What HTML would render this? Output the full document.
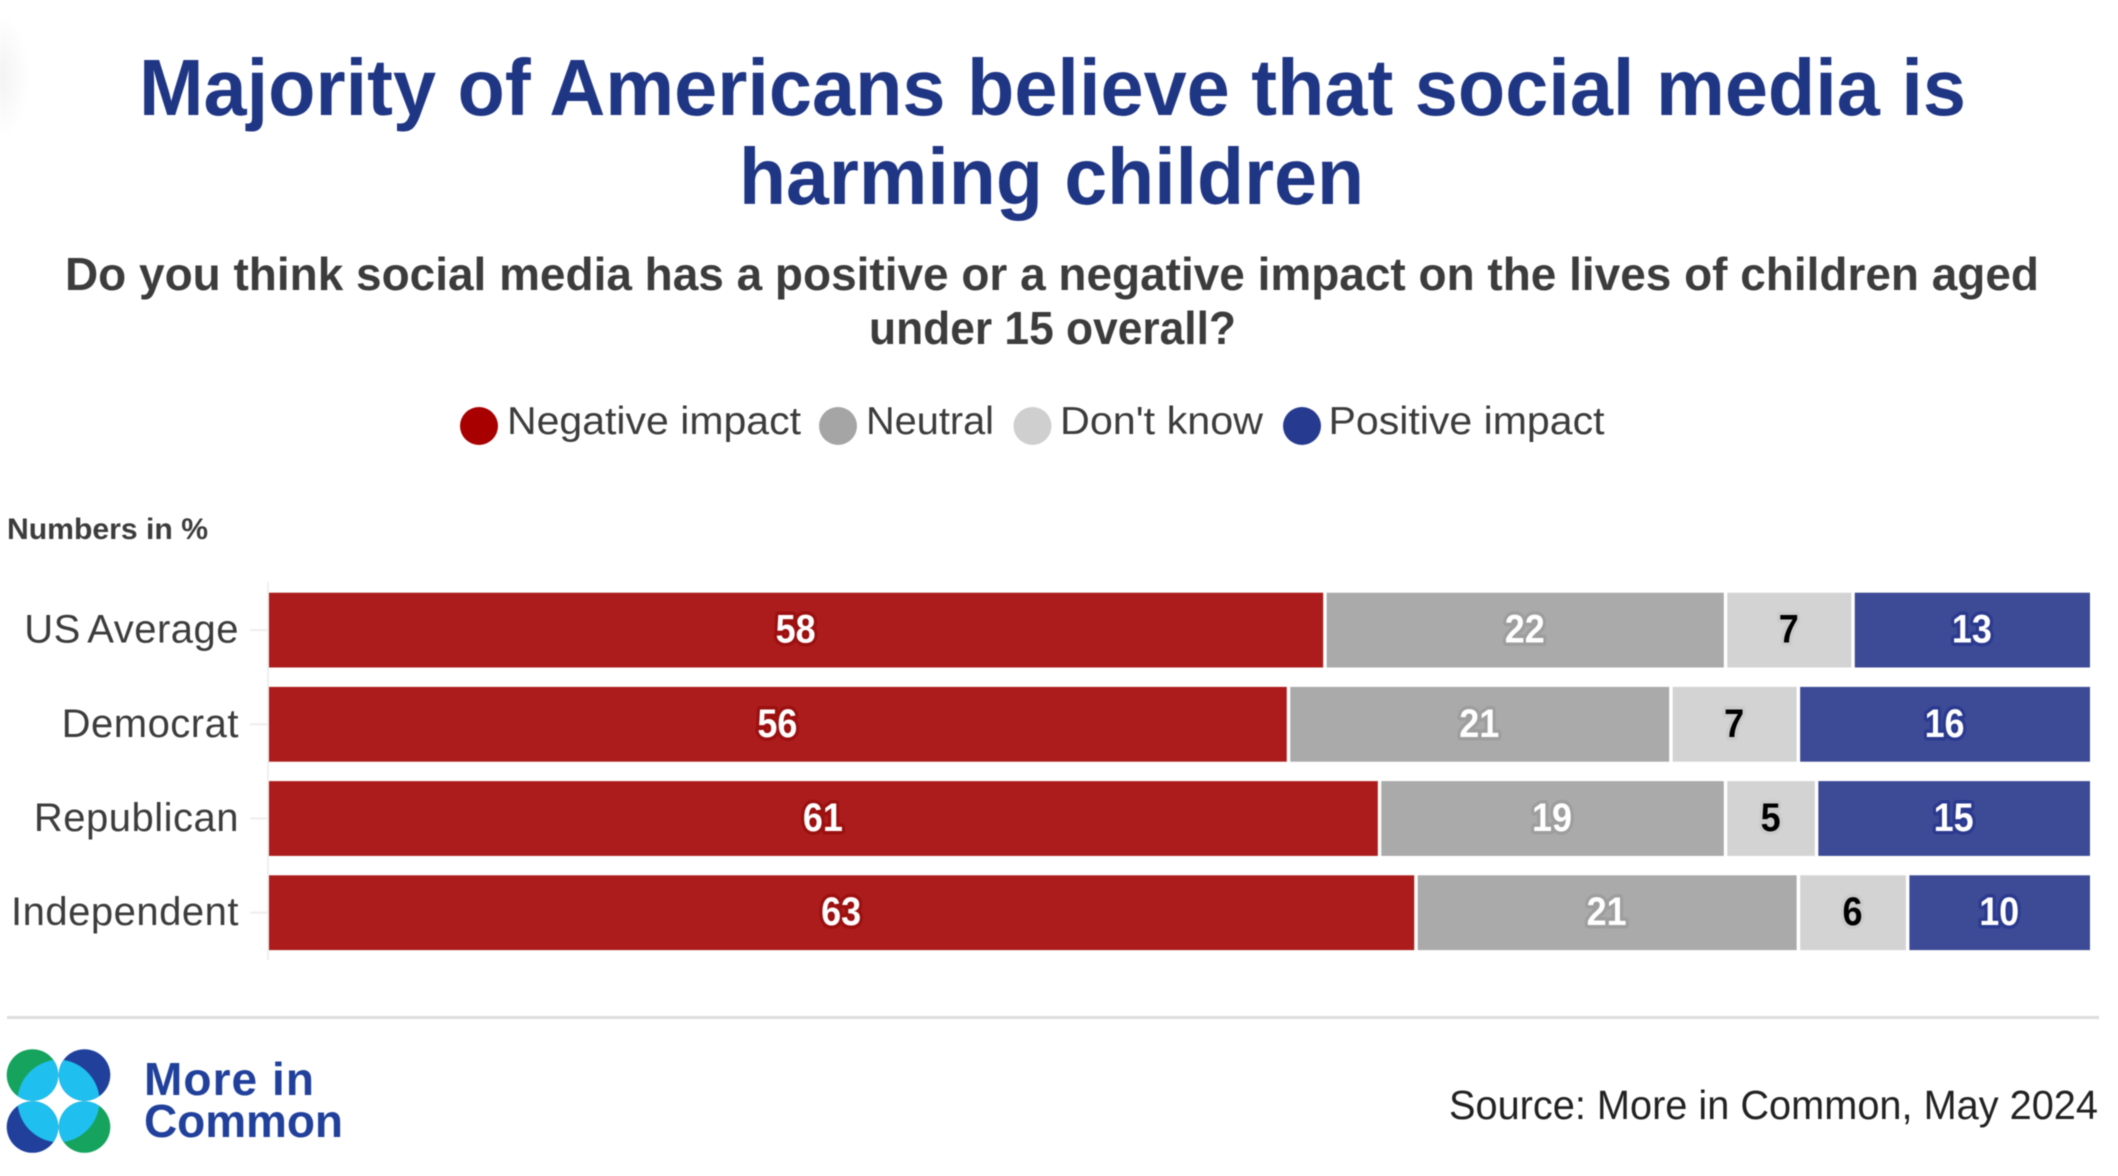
<!DOCTYPE html>
<html lang="en">
<head>
<meta charset="utf-8">
<title>Majority of Americans believe that social media is harming children</title>
<style>
html,body{margin:0;padding:0;background:#fff;}
svg{display:block;font-family:"Liberation Sans",Arial,sans-serif;filter:blur(0.5px);}
</style>
</head>
<body>
<svg id="chart" xmlns="http://www.w3.org/2000/svg" width="2118" height="1176" viewBox="0 0 2118 1176">
  <defs>
    <radialGradient id="smudge"><stop offset="0" stop-color="#f3f3f3"/><stop offset="1" stop-color="#ffffff"/></radialGradient>
  </defs>
  <rect width="2118" height="1176" fill="#fff"/>
  <ellipse cx="0" cy="76" rx="30" ry="62" fill="url(#smudge)"/>

  <g font-weight="700" font-size="80" fill="#1f3685" text-anchor="start">
    <text x="139" y="115" textLength="1827" lengthAdjust="spacingAndGlyphs">Majority of Americans believe that social media is</text>
    <text x="739" y="204" textLength="625" lengthAdjust="spacingAndGlyphs">harming children</text>
  </g>
  <g font-weight="700" font-size="46" fill="#3c3c3c">
    <text x="65" y="290" textLength="1974" lengthAdjust="spacingAndGlyphs">Do you think social media has a positive or a negative impact on the lives of children aged</text>
    <text x="869" y="344" textLength="367" lengthAdjust="spacingAndGlyphs">under 15 overall?</text>
  </g>

  <g font-size="39" fill="#3c3c3c">
    <g>
      <circle cx="479" cy="426" r="19" fill="#a80000"/>
      <text x="507" y="434" textLength="294" lengthAdjust="spacingAndGlyphs">Negative impact</text>
    </g>
    <g>
      <circle cx="838" cy="426" r="19" fill="#a5a5a5"/>
      <text x="866" y="434" textLength="128" lengthAdjust="spacingAndGlyphs">Neutral</text>
    </g>
    <g>
      <circle cx="1032.500" cy="426" r="19" fill="#cfcfcf"/>
      <text x="1060" y="434" textLength="203" lengthAdjust="spacingAndGlyphs">Don't know</text>
    </g>
    <g>
      <circle cx="1302" cy="426" r="19" fill="#263b8f"/>
      <text x="1328.500" y="434" textLength="276" lengthAdjust="spacingAndGlyphs">Positive impact</text>
    </g>
  </g>

  <text x="7" y="539" font-size="30" font-weight="700" fill="#3c3c3c" textLength="201" lengthAdjust="spacingAndGlyphs">Numbers in %</text>

  <g id="plot"></g>

  <rect x="7" y="1016" width="2092" height="3" fill="#dddddd"/>

  <g>
    <circle cx="32.5" cy="1075" r="25.8" fill="#16a35d"/>
    <circle cx="84.5" cy="1075" r="25.8" fill="#20409c"/>
    <circle cx="32.5" cy="1127" r="25.8" fill="#20409c"/>
    <circle cx="84.5" cy="1127" r="25.8" fill="#16a35d"/>
    <path d="M17.8 1096.2A42 42 0 0 1 53.5 1060A25.8 25.8 0 0 1 17.8 1096.2Z" fill="#1fbfef"/>
    <path d="M63.5 1060A42 42 0 0 1 99.2 1096.2A25.8 25.8 0 0 1 63.5 1060Z" fill="#1fbfef"/>
    <path d="M53.5 1142A42 42 0 0 1 17.8 1105.8A25.8 25.8 0 0 1 53.5 1142Z" fill="#1fbfef"/>
    <path d="M99.2 1105.8A42 42 0 0 1 63.5 1142A25.8 25.8 0 0 1 99.2 1105.8Z" fill="#1fbfef"/>
    <text x="144" y="1095" font-size="46" font-weight="700" fill="#20409c" textLength="170" lengthAdjust="spacing">More in</text>
    <text x="144" y="1137" font-size="46" font-weight="700" fill="#20409c" textLength="199" lengthAdjust="spacing">Common</text>
  </g>

  <text x="1449" y="1119" font-size="41" fill="#222222" textLength="649" lengthAdjust="spacingAndGlyphs">Source: More in Common, May 2024</text>
</svg>
<script>
const categories = ["US Average", "Democrat", "Republican", "Independent"];
const negativeValues = [58, 56, 61, 63];
const neutralValues = [22, 21, 19, 21];
const dontKnowValues = [7, 7, 5, 6];
const positiveValues = [13, 16, 15, 10];

const NS = "http://www.w3.org/2000/svg";
const plot = document.getElementById("plot");

const PLOT_LEFT = 269, PLOT_WIDTH = 1821, DOMAIN_MAX = 100;
const BAND_TOP = 592.7, BAND_STEP = 94.2, BAR_HEIGHT = 74.8;

function xScale(v) { return PLOT_LEFT + (v / DOMAIN_MAX) * PLOT_WIDTH; }
function yBandTop(i) { return BAND_TOP + i * BAND_STEP; }
function yBandCenter(i) { return yBandTop(i) + BAR_HEIGHT / 2; }

function make(tag, attrs) {
  const el = document.createElementNS(NS, tag);
  for (const k in attrs) el.setAttribute(k, attrs[k]);
  return el;
}

const axisLine = make("rect", { x: 267, y: 582, width: 2, height: 378, fill: "#eeeeee" });


plot.appendChild(axisLine);

categories.forEach(function (cat, i) {
  const tick = make("rect", { x: 250, y: yBandCenter(i) - 1, width: 17, height: 2, fill: "#eeeeee" });
  
  
  plot.appendChild(tick);

  const label = make("text", { x: 239, y: yBandCenter(i) + 12.5, "text-anchor": "end", "font-size": 40, "letter-spacing": 0.5, "word-spacing": -3, fill: "#3c3c3c" });
  
  
  label.textContent = cat;
  plot.appendChild(label);
});

const seriesNames = ["negative", "neutral", "dont-know", "positive"];
const seriesValues = [negativeValues, neutralValues, dontKnowValues, positiveValues];
const seriesFill = ["#ac1c1c", "#aaaaaa", "#d3d3d3", "#3d4a96"];
const seriesHalo = ["#9c1010", "#9e9e9e", "#cbcbcb", "#2b3a8f"];
const seriesText = ["#ffffff", "#ffffff", "#000000", "#ffffff"];

categories.forEach(function (cat, i) {
  let cum = 0;
  seriesValues.forEach(function (vals, s) {
    const v = vals[i];
    const start = xScale(cum) + (s === 0 ? 0 : 1.5);
    const end = xScale(cum + v) - (s === seriesValues.length - 1 ? 0 : 2);
    const bar = make("rect", { x: start, y: yBandTop(i), width: Math.max(0, end - start), height: BAR_HEIGHT, fill: seriesFill[s] });
    
    
    plot.appendChild(bar);

    const txt = make("text", {
      x: (start + end) / 2 - 0.5, y: yBandCenter(i) + 12.5,
      "text-anchor": "middle", "font-size": 40, "font-weight": 700,
      fill: seriesText[s], stroke: seriesHalo[s], "stroke-width": 7,
      "stroke-linejoin": "round", "paint-order": "stroke",
      textLength: String(v).length * 20, lengthAdjust: "spacingAndGlyphs"
    });
    
    
    txt.textContent = String(v);
    plot.appendChild(txt);
    cum += v;
  });
});
</script>
</body>
</html>
